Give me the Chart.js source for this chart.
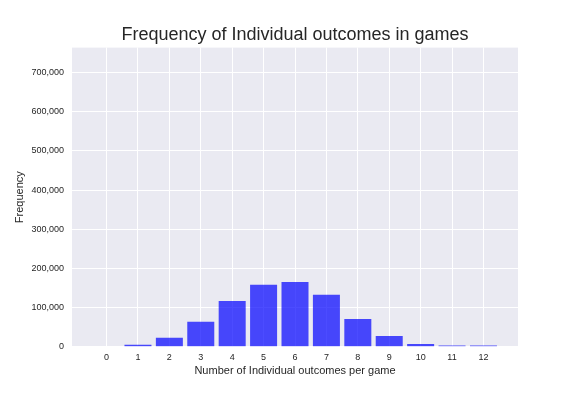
<!DOCTYPE html>
<html>
<head>
<meta charset="utf-8">
<script src="https://cdn.jsdelivr.net/npm/chart.js@4"></script>
<style>
  html, body { margin: 0; padding: 0; background: #ffffff; }
  #wrap { width: 576px; height: 396px; }
</style>
</head>
<body>
<div id="wrap"><canvas id="chart" width="576" height="396"></canvas></div>
<script>
// outcomes per game and how often each one happened
const outcomes = [0, 1, 2, 3, 4, 5, 6, 7, 8, 9, 10, 11, 12];
const frequency = [0, 5000, 23000, 63900, 116800, 158400, 165300, 132900, 70800, 27300, 7000, 3000, 3000];
const xTickValues = [0, 1, 2, 3, 4, 5, 6, 7, 8, 9, 10, 11, 12];
const yTickValues = [0, 100000, 200000, 300000, 400000, 500000, 600000, 700000];

const FONT = '"Liberation Sans", Arial, sans-serif';
const TEXT = '#262626';

const points = outcomes.map((o, i) => ({ x: o, y: frequency[i] }));

// seaborn-like grey plot background
const plotBg = {
    id: 'plotBg',
    beforeDraw(chart) {
        const { ctx, chartArea: a } = chart;
        ctx.save();
        ctx.fillStyle = '#EAEAF2';
        ctx.fillRect(a.left, a.top, a.right - a.left, a.bottom - a.top);
        ctx.restore();
    }
};

new Chart(document.getElementById('chart').getContext('2d'), {
    type: 'bar',
    data: {
        datasets: [{
            label: 'Frequency',
            data: points,
            backgroundColor: 'rgba(0, 0, 255, 0.7)',
            borderWidth: 0,
            barPercentage: 0.86,
            categoryPercentage: 1.0
        }]
    },
    options: {
        responsive: false,
        animation: false,
        layout: { padding: { left: 14, right: 0, top: 0, bottom: 0 } },
        plugins: {
            legend: { display: false },
            tooltip: { enabled: false },
            title: {
                display: true,
                text: 'Frequency of Individual outcomes in games',
                color: TEXT,
                font: { family: FONT, size: 18, weight: 'normal' },
                padding: { top: 24, bottom: 2 }
            }
        },
        scales: {
            x: {
                type: 'linear',
                offset: false,
                min: -1.1,
                max: 13.1,
                afterBuildTicks: (scale) => {
                    scale.ticks = xTickValues.map(v => ({ value: v }));
                },
                afterFit: (scale) => { scale.height = 49.3; },
                grid: { color: '#ffffff', lineWidth: 1, drawTicks: false, offset: false },
                border: { display: false },
                ticks: {
                    color: TEXT,
                    font: { family: FONT, size: 9 },
                    padding: 5,
                    maxRotation: 0,
                    callback: (v) => String(v)
                },
                title: {
                    display: true,
                    text: 'Number of Individual outcomes per game',
                    color: TEXT,
                    font: { family: FONT, size: 11 },
                    padding: { top: 0, bottom: 18 }
                }
            },
            y: {
                min: 0,
                max: 764000,
                afterBuildTicks: (scale) => {
                    scale.ticks = yTickValues.map(v => ({ value: v }));
                },
                afterFit: (scale) => { scale.width = 58; },
                grid: { color: '#ffffff', lineWidth: 1, drawTicks: false },
                border: { display: false },
                ticks: {
                    color: TEXT,
                    font: { family: FONT, size: 9 },
                    padding: 8,
                    callback: (v) => v.toLocaleString('en-US')
                },
                title: {
                    display: true,
                    text: 'Frequency',
                    color: TEXT,
                    font: { family: FONT, size: 11, lineHeight: 1 },
                    padding: { top: 0, bottom: 0 }
                }
            },
            // empty right-hand axis that keeps the plot clear of the right edge
            yRight: {
                position: 'right',
                display: true,
                min: 0,
                max: 1,
                afterFit: (scale) => { scale.width = 58; },
                grid: { display: false, drawTicks: false },
                border: { display: false },
                ticks: { display: false }
            }
        }
    },
    plugins: [plotBg]
});
</script>
</body>
</html>
